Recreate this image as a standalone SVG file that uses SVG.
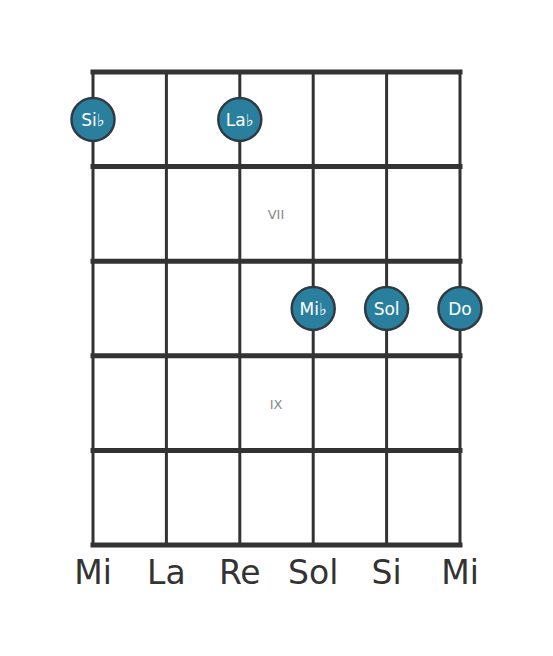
<svg xmlns="http://www.w3.org/2000/svg" width="553" height="656" viewBox="0 0 553 656">
<style>
.fret{stroke:#333;stroke-width:5;stroke-linecap:square}
.str{stroke:#333;stroke-width:3}
.dot{fill:#2a7f9e;stroke:#2f3b40;stroke-width:2.5}
.nt{font-family:"DejaVu Sans",sans-serif;font-size:17px;fill:#fff;text-anchor:middle;dominant-baseline:central}
.pos{font-family:"DejaVu Sans",sans-serif;font-size:13px;fill:#888;text-anchor:middle;dominant-baseline:central}
.sn{font-family:"DejaVu Sans",sans-serif;font-size:33px;fill:#333;text-anchor:middle}
</style>
<rect width="553" height="656" fill="#fff"/>
<g id="connectors">
<line class="str" x1="93" y1="72" x2="93" y2="545"/>
<line class="str" x1="166.4" y1="72" x2="166.4" y2="545"/>
<line class="str" x1="239.8" y1="72" x2="239.8" y2="545"/>
<line class="str" x1="313.2" y1="72" x2="313.2" y2="545"/>
<line class="str" x1="386.6" y1="72" x2="386.6" y2="545"/>
<line class="str" x1="460" y1="72" x2="460" y2="545"/>
<line class="fret" x1="93" y1="72" x2="460" y2="72"/>
<line class="fret" x1="93" y1="166.6" x2="460" y2="166.6"/>
<line class="fret" x1="93" y1="261.2" x2="460" y2="261.2"/>
<line class="fret" x1="93" y1="355.8" x2="460" y2="355.8"/>
<line class="fret" x1="93" y1="450.4" x2="460" y2="450.4"/>
<line class="fret" x1="93" y1="545" x2="460" y2="545"/>
</g>
<text class="pos" x="276" y="214">VII</text>
<text class="pos" x="276" y="404">IX</text>
<g id="n-sib"><circle class="dot" cx="93" cy="119.5" r="21.5"/><text class="nt" x="93" y="119.5">Si♭</text></g>
<g id="n-lab"><circle class="dot" cx="239.8" cy="119.5" r="21.5"/><text class="nt" x="239.8" y="119.5">La♭</text></g>
<g id="n-mib"><circle class="dot" cx="313.2" cy="308.5" r="21.5"/><text class="nt" x="313.2" y="308.5">Mi♭</text></g>
<g id="n-sol"><circle class="dot" cx="386.6" cy="308.5" r="21.5"/><text class="nt" x="386.6" y="308.5">Sol</text></g>
<g id="n-do"><circle class="dot" cx="460" cy="308.5" r="21.5"/><text class="nt" x="460" y="308.5">Do</text></g>
<g id="string-names">
<text class="sn" x="93" y="584">Mi</text>
<text class="sn" x="166.4" y="584">La</text>
<text class="sn" x="239.8" y="584">Re</text>
<text class="sn" x="313.2" y="584">Sol</text>
<text class="sn" x="386.6" y="584">Si</text>
<text class="sn" x="460" y="584">Mi</text>
</g>
</svg>
